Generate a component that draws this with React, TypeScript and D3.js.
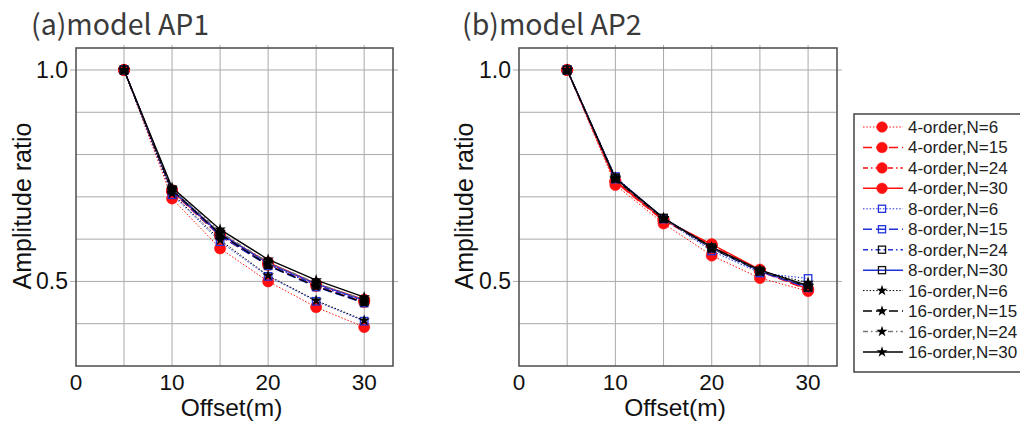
import React from 'react';
import * as d3 from 'd3';

const offsets = [5, 10, 15, 20, 25, 30];
const xTickLabels = [0, 10, 20, 30];
const xGridValues = [5, 10, 15, 20, 25, 30];
const yTickLabels = [0.5, 1.0];
const yGridValues = [0.4, 0.5, 0.6, 0.7, 0.8, 0.9, 1.0];
const orders = ['4-order', '8-order', '16-order'];
const nValues = [6, 15, 24, 30];

// model AP1
const ap1_4_6 = [1.0, 0.696, 0.578, 0.5, 0.439, 0.392];
const ap1_4_15 = [1.0, 0.712, 0.607, 0.539, 0.489, 0.451];
const ap1_4_24 = [1.0, 0.714, 0.61, 0.542, 0.492, 0.454];
const ap1_4_30 = [1.0, 0.716, 0.613, 0.545, 0.495, 0.457];
const ap1_8_6 = [1.0, 0.705, 0.594, 0.512, 0.453, 0.406];
const ap1_8_15 = [1.0, 0.714, 0.608, 0.537, 0.487, 0.449];
const ap1_8_24 = [1.0, 0.716, 0.611, 0.54, 0.491, 0.452];
const ap1_8_30 = [1.0, 0.717, 0.613, 0.543, 0.494, 0.455];
const ap1_16_6 = [1.0, 0.708, 0.598, 0.514, 0.455, 0.408];
const ap1_16_15 = [1.0, 0.716, 0.612, 0.538, 0.488, 0.45];
const ap1_16_24 = [1.0, 0.719, 0.617, 0.545, 0.496, 0.457];
const ap1_16_30 = [1.0, 0.722, 0.623, 0.552, 0.503, 0.463];

// model AP2
const ap2_4_6 = [1.0, 0.728, 0.637, 0.561, 0.508, 0.477];
const ap2_4_15 = [1.0, 0.735, 0.643, 0.585, 0.524, 0.48];
const ap2_4_24 = [1.0, 0.736, 0.645, 0.587, 0.526, 0.481];
const ap2_4_30 = [1.0, 0.738, 0.646, 0.588, 0.528, 0.482];
const ap2_8_6 = [1.0, 0.748, 0.648, 0.572, 0.52, 0.507];
const ap2_8_15 = [1.0, 0.742, 0.648, 0.578, 0.523, 0.485];
const ap2_8_24 = [1.0, 0.744, 0.649, 0.579, 0.524, 0.486];
const ap2_8_30 = [1.0, 0.745, 0.65, 0.58, 0.525, 0.487];
const ap2_16_6 = [1.0, 0.746, 0.65, 0.577, 0.524, 0.497];
const ap2_16_15 = [1.0, 0.742, 0.648, 0.579, 0.525, 0.488];
const ap2_16_24 = [1.0, 0.743, 0.649, 0.58, 0.526, 0.489];
const ap2_16_30 = [1.0, 0.744, 0.65, 0.581, 0.527, 0.49];

const ap1Values = [
  [ap1_4_6, ap1_4_15, ap1_4_24, ap1_4_30],
  [ap1_8_6, ap1_8_15, ap1_8_24, ap1_8_30],
  [ap1_16_6, ap1_16_15, ap1_16_24, ap1_16_30],
];
const ap2Values = [
  [ap2_4_6, ap2_4_15, ap2_4_24, ap2_4_30],
  [ap2_8_6, ap2_8_15, ap2_8_24, ap2_8_30],
  [ap2_16_6, ap2_16_15, ap2_16_24, ap2_16_30],
];

const RED = '#ff1010';
const BLUE = '#2233dd';
const orderColor = [RED, BLUE, '#000000'];
const dashFor = (ni: number) => ['1.5,1.8', '9,4', '5,3,1.5,3', null][ni];
const lineColor = (oi: number, ni: number) => (oi === 2 && ni === 2 ? '#777' : orderColor[oi]);
const markerStroke = (oi: number, ni: number) => (oi === 1 && ni >= 2 ? '#111' : orderColor[oi]);

const FONT = "'Liberation Sans', Arial, sans-serif";

function Marker({ oi, ni, x, y, scale = 1 }: { oi: number; ni: number; x: number; y: number; scale?: number }) {
  if (oi === 0) {
    return <circle cx={x} cy={y} r={5.6 * scale} fill={RED} stroke={RED} strokeWidth={0.5} />;
  }
  if (oi === 1) {
    const s = 7.5 * scale;
    return <rect x={x - s / 2} y={y - s / 2} width={s} height={s} fill="none" stroke={markerStroke(oi, ni)} strokeWidth={1.3} />;
  }
  const path = d3.symbol().type(d3.symbolStar).size(42 * scale * scale)()!;
  return <path d={path} transform={`translate(${x},${y})`} fill="#000" />;
}

function Panel({ values, x0, x1, title, titleX, yLabelX }: { values: number[][][]; x0: number; x1: number; title: string; titleX: number; yLabelX: number }) {
  const y0 = 48;
  const y1 = 366;
  const xs = d3.scaleLinear().domain([0, 33]).range([x0, x1]);
  const ys = d3.scaleLinear().domain([0.3, 1.052]).range([y1, y0]);
  const line = d3.line<number>().x((_, i) => xs(offsets[i])).y((d) => ys(d));
  return (
    <g>
      {xGridValues.map((v) => (
        <line key={'xg' + v} x1={xs(v)} x2={xs(v)} y1={y0 - 3} y2={y1} stroke="#aaa" strokeWidth={1} />
      ))}
      {yGridValues.map((v) => {
        const labeled = yTickLabels.some((t) => Math.abs(t - v) < 1e-6);
        return (
          <line key={'yg' + v} x1={x0 - (labeled ? 6 : 0)} x2={x1 + (labeled ? 5 : 0)} y1={ys(v)} y2={ys(v)} stroke="#aaa" strokeWidth={1} />
        );
      })}
      <rect x={x0} y={y0} width={x1 - x0} height={y1 - y0} fill="none" stroke="#555" strokeWidth={1.6} />
      {values.map((ov, oi) =>
        ov.map((sv, ni) => (
          <g key={`s${oi}-${ni}`}>
            <path d={line(sv)!} fill="none" stroke={lineColor(oi, ni)} strokeWidth={ni === 0 ? 1 : 1.3} strokeDasharray={dashFor(ni) || undefined} />
            {sv.map((v, i) => (
              <Marker key={i} oi={oi} ni={ni} x={xs(offsets[i])} y={ys(v)} />
            ))}
          </g>
        ))
      )}
      {xTickLabels.map((v) => (
        <text key={'xt' + v} x={xs(v)} y={390} textAnchor="middle" fontFamily={FONT} fontSize={22.5} fill="#111">{v}</text>
      ))}
      {yTickLabels.map((v) => (
        <text key={'yt' + v} x={x0 - 8} y={ys(v) + 8} textAnchor="end" fontFamily={FONT} fontSize={23} fill="#111">{v.toFixed(1)}</text>
      ))}
      <text x={(x0 + x1) / 2 - 3} y={416} textAnchor="middle" fontFamily={FONT} fontSize={24.5} fill="#111">Offset(m)</text>
      <text transform={`translate(${yLabelX},206) rotate(-90)`} textAnchor="middle" fontFamily={FONT} fontSize={25} fill="#111">Amplitude ratio</text>
      <text x={titleX} y={35} fontFamily="'Noto Sans CJK JP', 'Noto Sans', sans-serif" fontSize={28.5} fill="#3a3a3a">{title}</text>
    </g>
  );
}

function Legend() {
  const lx = 854;
  const ly = 114;
  const rows: { oi: number; ni: number }[] = [];
  orders.forEach((_, oi) => nValues.forEach((_, ni) => rows.push({ oi, ni })));
  return (
    <g>
      <rect x={lx} y={ly} width={200} height={258} fill="#fff" stroke="#444" strokeWidth={1.5} />
      {rows.map(({ oi, ni }, i) => {
        const cy = 127 + i * 20.45;
        return (
          <g key={i}>
            <line x1={863} x2={903} y1={cy} y2={cy} stroke={lineColor(oi, ni)} strokeWidth={ni === 0 ? 1 : 1.5} strokeDasharray={dashFor(ni) || undefined} />
            <Marker oi={oi} ni={ni} x={882} y={cy} scale={0.95} />
            <text x={908} y={cy + 6} fontFamily={FONT} fontSize={17} fill="#222">{`${orders[oi]},N=${nValues[ni]}`}</text>
          </g>
        );
      })}
    </g>
  );
}

export default function App() {
  return (
    <svg width={1020} height={423} style={{ position: 'absolute', left: 0, top: 0, background: '#fff' }}>
      <rect x={0} y={0} width={1020} height={423} fill="#fff" />
      <Panel values={ap1Values} x0={76} x1={393} title="(a)model AP1" titleX={31} yLabelX={31} />
      <Panel values={ap2Values} x0={519} x1={837} title="(b)model AP2" titleX={462} yLabelX={473} />
      <Legend />
    </svg>
  );
}
